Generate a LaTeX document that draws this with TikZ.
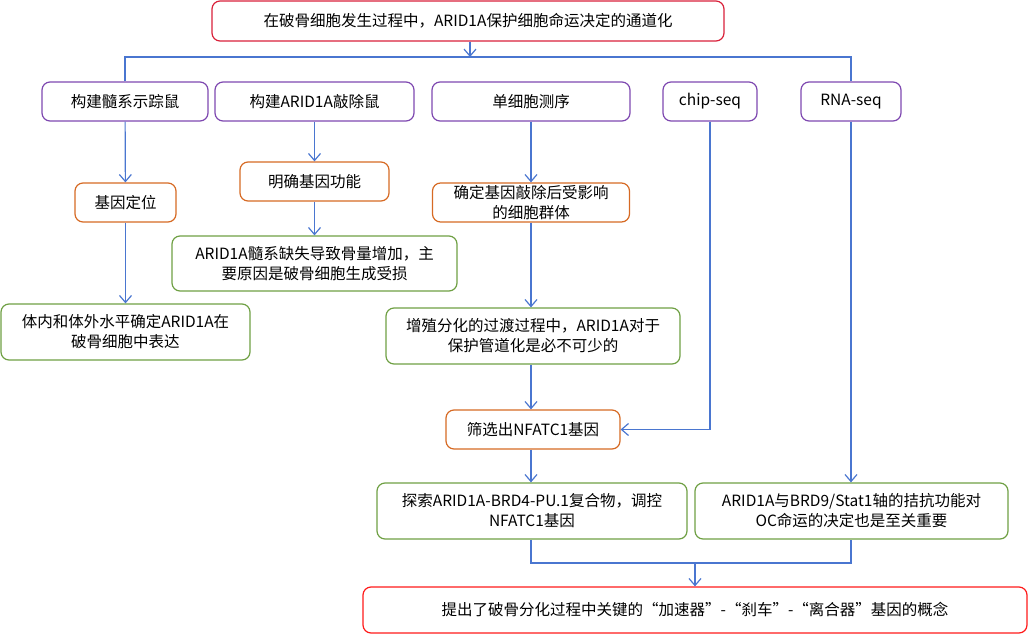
\documentclass[tikz,border=0pt]{standalone}
\usepackage{fontspec}
\setmainfont{Noto Sans CJK SC}
\usepackage{tikz}
\usetikzlibrary{arrows.meta}
\definecolor{aimred}{HTML}{D9213A}
\definecolor{endred}{HTML}{FF1A1A}
\definecolor{stepviolet}{HTML}{7E48B0}
\definecolor{steporange}{HTML}{D66A24}
\definecolor{stepgreen}{HTML}{6FA044}
\definecolor{linkblue}{HTML}{4A76D0}

\begin{document}
\begin{tikzpicture}[x=1pt,y=-1pt]
            \tikzstyle{box}=[draw, rounded corners=8pt, line width=1.2pt, align=center, inner sep=0pt, font=\fontsize{15.5}{20}\selectfont]
            \tikzstyle{aim}=[box, draw=aimred]
            \tikzstyle{conclusion}=[box, draw=endred]
            \tikzstyle{method}=[box, draw=stepviolet, minimum height=39pt]
            \tikzstyle{finding}=[box, draw=steporange, minimum height=39pt]
            \tikzstyle{result}=[box, draw=stepgreen, minimum height=56pt]
            \tikzstyle{link}=[draw=linkblue, line width=1.2pt]
            \tikzstyle{arr}=[link, -{Straight Barb[length=7pt,width=12pt]}]
            \useasboundingbox (0,0) rectangle (1029,635);
            \node[aim, minimum width=512pt, minimum height=40pt] (aim) at (468,21) {在破骨细胞发生过程中，ARID1A保护细胞命运决定的通道化};
                \node[method, minimum width=166pt] (tracer) at (125,101.5) {构建髓系示踪鼠};
                \node[method, minimum width=199pt] (knockout) at (314.5,101.5) {构建ARID1A敲除鼠};
                \node[method, minimum width=198pt] (singlecell) at (531,101.5) {单细胞测序};
                \node[method, minimum width=94pt] (chipseq) at (710,101.5) {chip-seq};
                \node[method, minimum width=100pt] (rnaseq) at (851,101.5) {RNA-seq};
            \node[finding, minimum width=101pt] (locate) at (125.5,202.5) {基因定位};
            \node[finding, minimum width=149pt] (function) at (314.5,181.5) {明确基因功能};
            \node[finding, minimum width=197pt] (affected) at (531,202.5) {确定基因敲除后受影响\\的细胞群体};
            \node[result, minimum width=249pt] (express) at (125.5,332) {体内和体外水平确定ARID1A在\\破骨细胞中表达};
            \node[result, minimum width=285pt, minimum height=55pt] (boneloss) at (314.5,263.5) {ARID1A髓系缺失导致骨量增加，主\\要原因是破骨细胞生成受损};
            \node[result, minimum width=294pt] (transition) at (533,336) {增殖分化的过渡过程中，ARID1A对于\\保护管道化是必不可少的};
            \node[finding, minimum width=174pt] (screen) at (533,429.5) {筛选出NFATC1基因};
            \node[result, minimum width=310pt] (complex) at (532,511) {探索ARID1A-BRD4-PU.1复合物，调控\\NFATC1基因};
            \node[result, minimum width=313pt] (antagonism) at (851.5,511) {ARID1A与BRD9/Stat1轴的拮抗功能对\\OC命运的决定也是至关重要};
            \node[conclusion, minimum width=664pt, minimum height=46pt] (concept) at (695,610) {提出了破骨分化过程中关键的“加速器”-“刹车”-“离合器”基因的概念};
            \coordinate (split) at (470,57);
            \coordinate (merge) at (695,563);
            \draw[arr] (aim.south -| split) -- (split);
            \draw[link] (tracer.north) -- (tracer.north |- split) -- (rnaseq.north |- split) -- (rnaseq.north);
            \draw[arr] (tracer) -- (locate);
            \draw[arr] (locate) -- (locate |- express.north);
            \draw[arr] (knockout) -- (function);
            \draw[arr] (function) -- (boneloss);
            \draw[arr] (singlecell) -- (affected);
            \draw[arr] (affected) -- (affected |- transition.north);
            \draw[arr] (transition.south -| affected) -- (affected |- screen.north);
            \draw[arr] (screen.south -| affected) -- (affected |- complex.north);
            \draw[arr] (chipseq.south) |- (screen.east);
            \draw[arr] (rnaseq.south) -- (rnaseq.south |- antagonism.north);
            \draw[link] (complex.south -| affected) |- (merge) -| (antagonism.south -| rnaseq);
            \draw[arr] (merge) -- (concept.north);
        \end{tikzpicture}
\end{document}
